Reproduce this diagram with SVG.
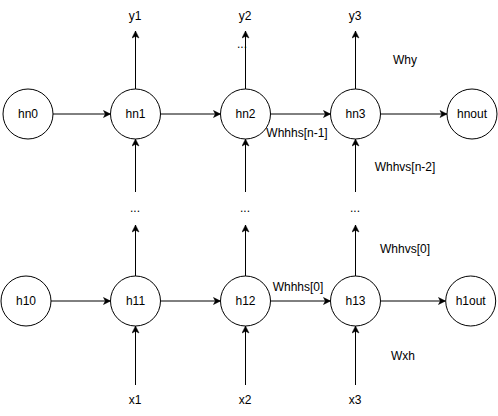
<svg xmlns="http://www.w3.org/2000/svg" width="498" height="416" viewBox="0 0 498 416">
<style>
.n circle{fill:#fff;stroke:#000;stroke-width:1}
text{font-family:"Liberation Sans",Arial,sans-serif;font-size:12px;fill:#000;text-anchor:middle}
.e line{stroke:#000;stroke-width:1;fill:none}
</style>
<defs>
<marker id="a" viewBox="-8 -4 8 8" refX="0" refY="0" markerWidth="8" markerHeight="8" markerUnits="userSpaceOnUse" orient="auto">
<path d="M0,0 L-7,-3.5 L-5.2,0 L-7,3.5 Z" fill="#000" stroke="#000" stroke-width="0.5"/>
</marker>
</defs>
<rect width="498" height="416" fill="#fff"/>
<g id="connectors" class="e">
<line x1="53" y1="114" x2="110.5" y2="114" marker-end="url(#a)"/>
<line x1="160.5" y1="114" x2="220.5" y2="114" marker-end="url(#a)"/>
<line x1="270.5" y1="114" x2="330.5" y2="114" marker-end="url(#a)"/>
<line x1="380.5" y1="114" x2="447" y2="114" marker-end="url(#a)"/>
<line x1="135.5" y1="89" x2="135.5" y2="31" marker-end="url(#a)"/>
<line x1="245.5" y1="89" x2="245.5" y2="31" marker-end="url(#a)"/>
<line x1="355.5" y1="89" x2="355.5" y2="31" marker-end="url(#a)"/>
<line x1="135.5" y1="192" x2="135.5" y2="139" marker-end="url(#a)"/>
<line x1="245.5" y1="192" x2="245.5" y2="139" marker-end="url(#a)"/>
<line x1="355.5" y1="192" x2="355.5" y2="139" marker-end="url(#a)"/>
<line x1="51" y1="301" x2="110.5" y2="301" marker-end="url(#a)"/>
<line x1="160.5" y1="301" x2="220.5" y2="301" marker-end="url(#a)"/>
<line x1="270.5" y1="301" x2="330.5" y2="301" marker-end="url(#a)"/>
<line x1="380.5" y1="301" x2="445.5" y2="301" marker-end="url(#a)"/>
<line x1="135.5" y1="276" x2="135.5" y2="225" marker-end="url(#a)"/>
<line x1="245.5" y1="276" x2="245.5" y2="225" marker-end="url(#a)"/>
<line x1="355.5" y1="276" x2="355.5" y2="225" marker-end="url(#a)"/>
<line x1="135.5" y1="385" x2="135.5" y2="326" marker-end="url(#a)"/>
<line x1="245.5" y1="385" x2="245.5" y2="326" marker-end="url(#a)"/>
<line x1="355.5" y1="385" x2="355.5" y2="326" marker-end="url(#a)"/>
</g>
<g id="hn0" class="n"><circle cx="28" cy="114" r="25"/><text x="28" y="118">hn0</text></g>
<g id="hn1" class="n"><circle cx="135.5" cy="114" r="25"/><text x="135.5" y="118">hn1</text></g>
<g id="hn2" class="n"><circle cx="245.5" cy="114" r="25"/><text x="245.5" y="118">hn2</text></g>
<g id="hn3" class="n"><circle cx="355.5" cy="114" r="25"/><text x="355.5" y="118">hn3</text></g>
<g id="hnout" class="n"><circle cx="472" cy="114" r="25"/><text x="472" y="118">hnout</text></g>
<g id="h10" class="n"><circle cx="26" cy="301" r="25"/><text x="26" y="305">h10</text></g>
<g id="h11" class="n"><circle cx="135.5" cy="301" r="25"/><text x="135.5" y="305">h11</text></g>
<g id="h12" class="n"><circle cx="245.5" cy="301" r="25"/><text x="245.5" y="305">h12</text></g>
<g id="h13" class="n"><circle cx="355.5" cy="301" r="25"/><text x="355.5" y="305">h13</text></g>
<g id="h1out" class="n"><circle cx="470.7" cy="301" r="25"/><text x="470.7" y="305">h1out</text></g>
<g id="labels">
<text x="135" y="20">y1</text>
<text x="245" y="20">y2</text>
<text x="355" y="20">y3</text>
<text x="242" y="48">...</text>
<text x="135" y="212">...</text>
<text x="245" y="212">...</text>
<text x="355" y="212">...</text>
<text x="135" y="404">x1</text>
<text x="245" y="404">x2</text>
<text x="355" y="404">x3</text>
<text x="405" y="64">Why</text>
<text x="297" y="137">Whhhs[n-1]</text>
<text x="405" y="171">Whhvs[n-2]</text>
<text x="405" y="253">Whhvs[0]</text>
<text x="298" y="291">Whhhs[0]</text>
<text x="403" y="360">Wxh</text>
</g>
</svg>
